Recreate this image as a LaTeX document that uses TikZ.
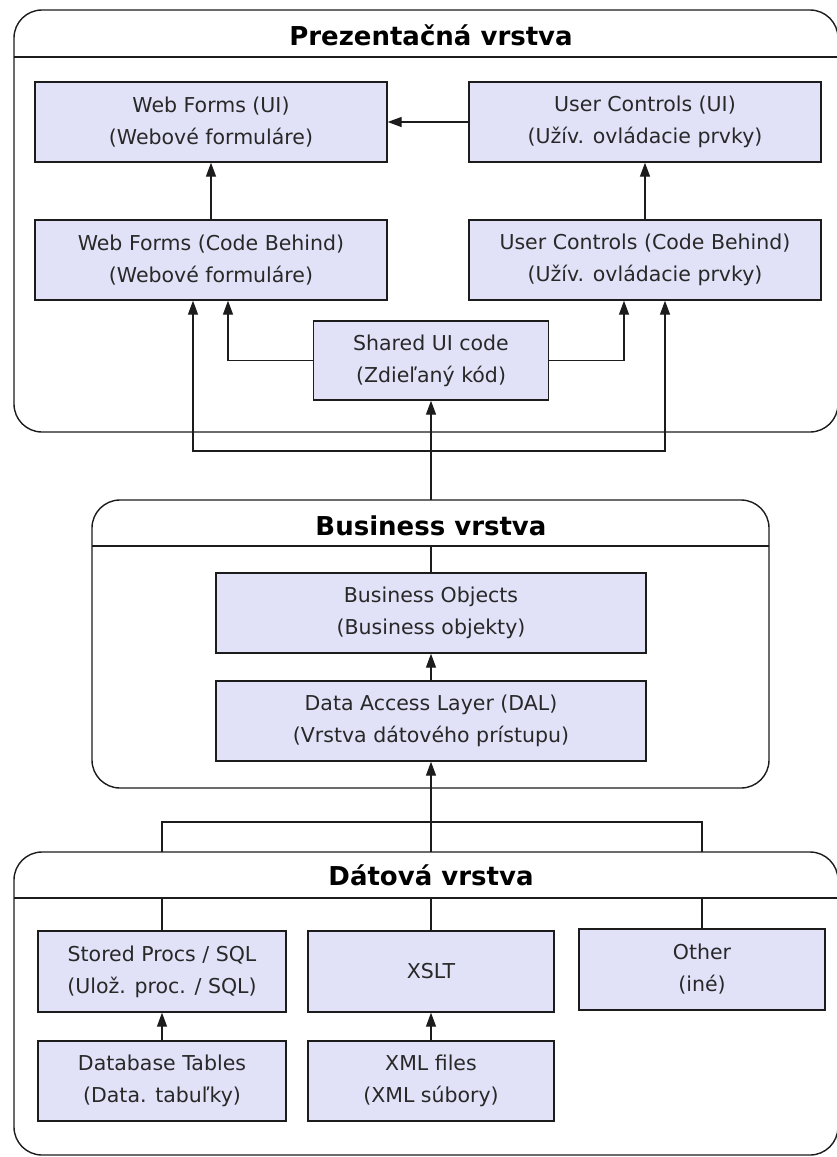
\documentclass[tikz,border=0pt]{standalone}
\usepackage{fontspec}
\setmainfont{DejaVu Sans}
\usetikzlibrary{arrows.meta}
\pgfdeclarelayer{bg}
\pgfdeclarelayer{conn}
\pgfdeclarelayer{hdr}
\pgfsetlayers{bg,conn,hdr,main}
\definecolor{boxfill}{RGB}{225,226,248}
\definecolor{ink}{RGB}{28,28,28}
\definecolor{textink}{RGB}{40,40,40}

% tier frame: left, top, right, bottom, header line
\newcommand{\tierframe}[5]{%
  \begin{scope}
    \clip (#1,#2) rectangle (#3,#5);
    \fill[white, rounded corners=28pt] (#1,#2) rectangle (#3,#4);
  \end{scope}
  \draw[frame] (#1,#2) rectangle (#3,#4);
  \draw[link] (#1,#5) -- (#3,#5);
}

\begin{document}
\begin{tikzpicture}[x=1pt,y=-1pt,
  comp/.style={draw=ink, line width=1.4pt, fill=boxfill, align=center, text=textink,
    inner sep=0pt, font=\fontsize{20.5}{32}\selectfont},
  wide/.style={comp, minimum width=352pt, minimum height=80pt},
  frame/.style={draw=ink, line width=1.4pt, rounded corners=28pt},
  tiertitle/.style={font=\fontsize{26}{30}\selectfont\bfseries, inner sep=0pt, anchor=base},
  link/.style={draw=ink, line width=1.4pt},
  arr/.style={link, -{Triangle[width=10pt,length=14pt]}},
]
\useasboundingbox (0,0) rectangle (836,1157);
\begin{pgfonlayer}{bg}
  \fill[white] (0,0) rectangle (836,1157);
\end{pgfonlayer}

% presentation tier components
\node[wide] (wfui) at (211,122) {Web Forms (UI)\\(Webové formuláre)};
\node[wide] (ucui) at (645,122) {User Controls (UI)\\(Užív. ovládacie prvky)};
\node[wide] (wfcb) at (211,260) {Web Forms (Code Behind)\\(Webové formuláre)};
\node[wide] (uccb) at (645,260) {User Controls (Code Behind)\\(Užív. ovládacie prvky)};
\node[comp, minimum width=235pt, minimum height=79pt] (shared) at (431,360.5)
  {Shared UI code\\(Zdieľaný kód)};

% business tier components
\node[comp, minimum width=430pt, minimum height=80pt] (bo) at (431,613)
  {Business Objects\\(Business objekty)};
\node[comp, minimum width=430pt, minimum height=80pt] (dal) at (431,721)
  {Data Access Layer (DAL)\\(Vrstva dátového prístupu)};

% data tier components
\node[comp, minimum width=248pt, minimum height=81pt] (sp) at (162,971.5)
  {Stored Procs / SQL\\(Ulož. proc. / SQL)};
\node[comp, minimum width=246pt, minimum height=81pt] (xslt) at (431,971.5) {XSLT};
\node[comp, minimum width=246pt, minimum height=81pt] (other) at (702,969.5)
  {Other\\(iné)};
\node[comp, minimum width=248pt, minimum height=80pt] (dbt) at (162,1081)
  {Database Tables\\(Data. tabuľky)};
\node[comp, minimum width=246pt, minimum height=80pt] (xmlf) at (431,1081)
  {XML files\\(XML súbory)};

\coordinate (hub) at (431,451);
\coordinate (dhub) at (431,822);

\begin{pgfonlayer}{conn}
  \draw[arr] (ucui.west) -- (wfui.east);
  \draw[arr] (wfcb.north) -- (wfui.south);
  \draw[arr] (uccb.north) -- (ucui.south);
  \draw[arr] (shared.west) -| ([xshift=17pt]wfcb.south);
  \draw[arr] (shared.east) -| ([xshift=-21pt]uccb.south);
  \draw[arr] (bo.north) -- (shared.south);
  \draw[arr] (hub) -| ([xshift=-18pt]wfcb.south);
  \draw[arr] (hub) -| ([xshift=20pt]uccb.south);
  \draw[arr] (dal.north) -- (bo.south);
  \draw[arr] (xslt.north) -- (dal.south);
  \draw[link] (sp.north) |- (dhub);
  \draw[link] (other.north) |- (dhub);
  \draw[arr] (dbt.north) -- (sp.south);
  \draw[arr] (xmlf.north) -- (xslt.south);
\end{pgfonlayer}

\begin{pgfonlayer}{hdr}
  \tierframe{14}{10}{838}{432}{57}
  \node[tiertitle] (prestitle) at (431,45) {Prezentačná vrstva};
  \tierframe{92}{500}{769}{788}{546}
  \node[tiertitle] (bustitle) at (431,535) {Business vrstva};
  \tierframe{14}{852}{838}{1155}{898}
  \node[tiertitle] (datatitle) at (431,885) {Dátová vrstva};
\end{pgfonlayer}
\end{tikzpicture}
\end{document}
